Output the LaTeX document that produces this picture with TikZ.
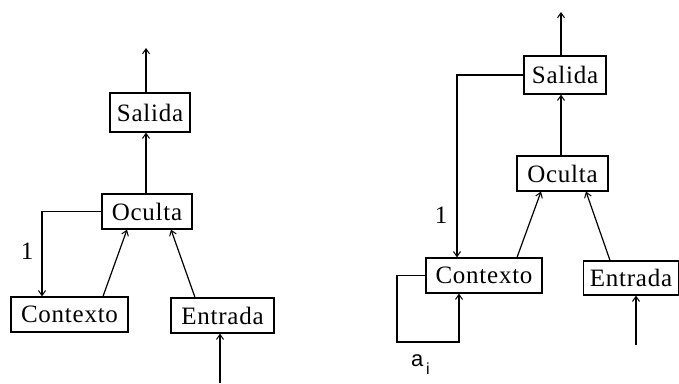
\documentclass[tikz,border=0pt]{standalone}
\usepackage{fontspec}
\setmainfont{Liberation Serif}[LetterSpace=3]
\newfontfamily\lblfont{Liberation Sans}
\usetikzlibrary{arrows.meta,calc}
\tikzset{
  box/.style={draw, line width=1.2pt, inner sep=0pt, font=\fontsize{25}{27}\selectfont},
  arr/.style={line width=1.2pt, -{Straight Barb[length=5pt,width=7pt,line width=1pt]}},
  lbl/.style={font=\fontsize{25}{27}\selectfont, inner sep=0pt},
  albl/.style={font=\lblfont\fontsize{22}{24}\selectfont, inner sep=0pt}
}
\begin{document}
\begin{tikzpicture}[x=1pt,y=-1pt]
\useasboundingbox[fill=white] (0,0) rectangle (679,383);
% left diagram
\node[box, minimum width=80pt, minimum height=39pt] (sL) at (150,112.5) {Salida};
\node[box, minimum width=90pt, minimum height=35pt] (oL) at (147,211.5) {Oculta};
\node[box, minimum width=117pt, minimum height=35pt] (cL) at (69.5,314.5) {Contexto};
\node[box, minimum width=103pt, minimum height=35pt] (eL) at (222.5,315.5) {Entrada};
\coordinate (topL) at (146,48);
\coordinate (inL) at (220,383);
\draw[arr] (sL.north -| topL) -- (topL);
\draw[arr] (oL.north -| topL) -- (sL.south -| topL);
\draw[arr] (oL.west) -| ([xshift=-27.5pt]cL.north);
\node[lbl] (oneL) at (27,251) {1};
\draw[arr] ([xshift=33.5pt]cL.north) -- ([xshift=-20pt]oL.south);
\draw[arr] ([xshift=-27.5pt]eL.north) -- ([xshift=24pt]oL.south);
\draw[arr] (inL) -- (eL.south -| inL);
% right diagram
\node[box, minimum width=82pt, minimum height=38pt] (sR) at (565,75) {Salida};
\node[box, minimum width=91pt, minimum height=35pt] (oR) at (562.5,173.5) {Oculta};
\node[box, minimum width=116pt, minimum height=35pt] (cR) at (484,275.5) {Contexto};
\node[box, minimum width=95pt, minimum height=34pt] (eR) at (631,278) {Entrada};
\coordinate (topR) at (561,12);
\coordinate (inR) at (636,345);
\coordinate (loopA) at (397,342);
\draw[arr] (sR.north -| topR) -- (topR);
\draw[arr] (oR.north -| topR) -- (sR.south -| topR);
\draw[arr] (sR.west) -| ([xshift=-27pt]cR.north);
\node[lbl] (oneR) at (441,215) {1};
\draw[arr] (cR.west) -| (loopA) -| ([xshift=-25pt]cR.south);
\node[albl, anchor=base west] (aiR) at (411,366) {a\raisebox{-8pt}{\fontsize{16}{18}\selectfont\,i}};
\draw[arr] ([xshift=33pt]cR.north) -- ([xshift=-21.5pt]oR.south);
\draw[arr] ([xshift=-21pt]eR.north) -- ([xshift=23.5pt]oR.south);
\draw[arr] (inR) -- (eR.south -| inR);
\end{tikzpicture}
\end{document}
